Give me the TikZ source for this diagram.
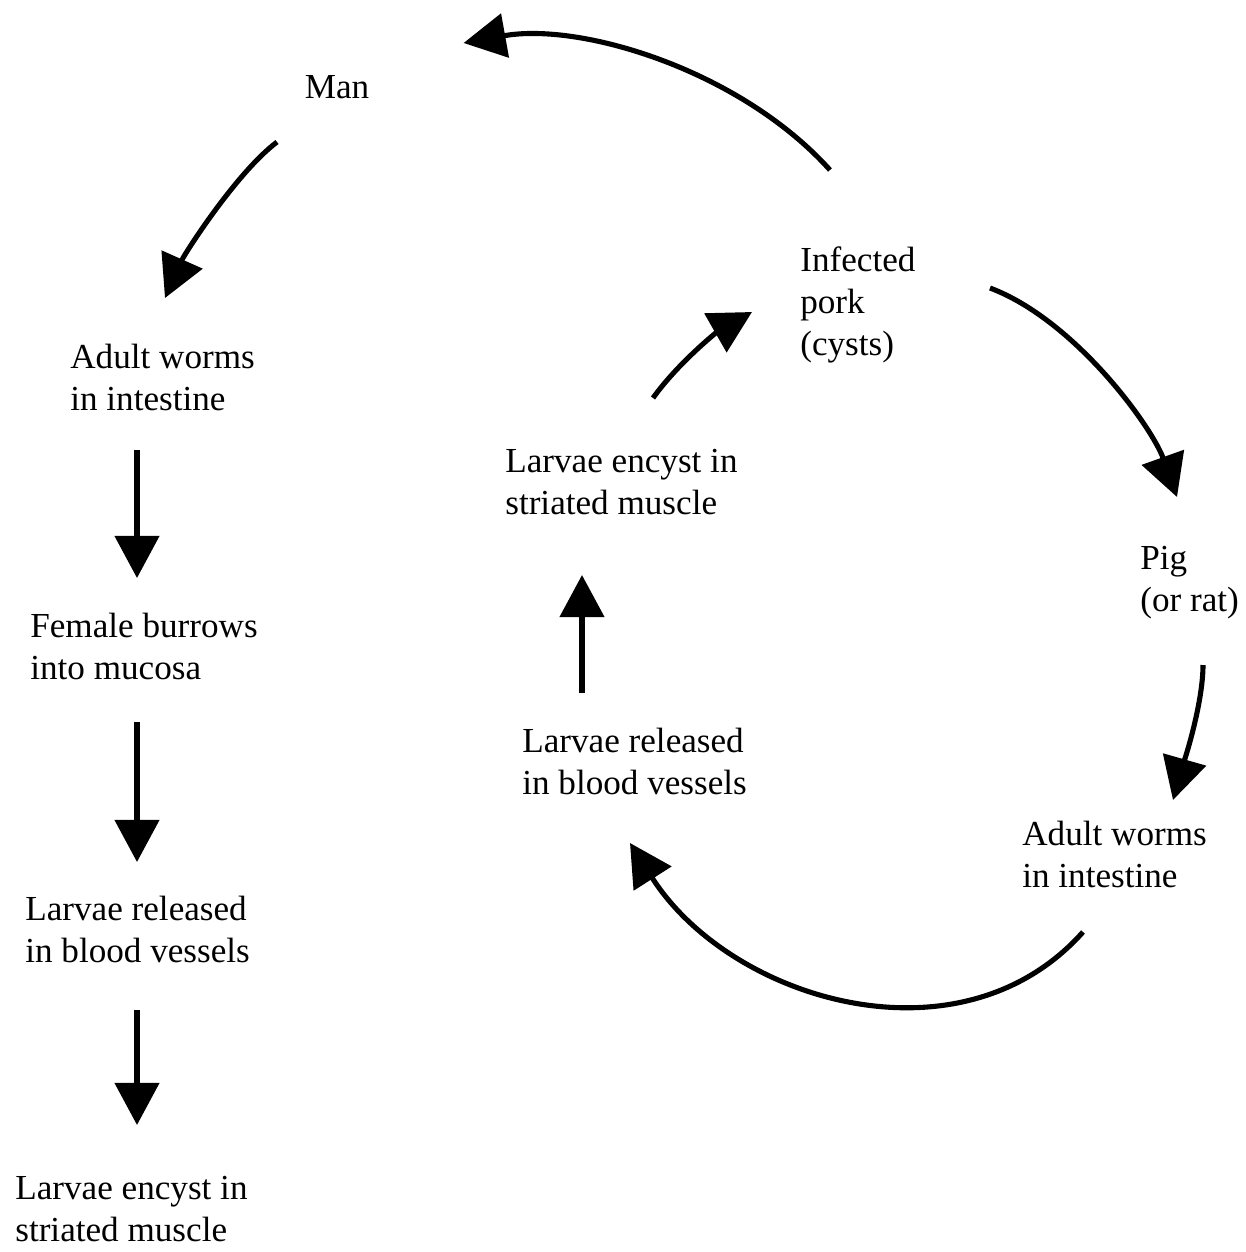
\documentclass[tikz,border=0pt]{standalone}
\usepackage{fontspec}
\setmainfont{Liberation Serif}
\usetikzlibrary{arrows.meta, positioning}

\begin{document}
\begin{tikzpicture}[
  x=0.02cm, y=-0.02cm,
  every node/.style={font=\fontsize{20}{24}\selectfont, align=left, inner sep=0pt, anchor=north west},
  arrow/.style={-{Triangle[length=24pt, width=25pt]}, line width=2.9pt}
]
\useasboundingbox (0,0) rectangle (1246,1252);

% Man (left column)
\node[anchor=center] (man) at (337,87) {Man};
\node (adultL) at (70,344) {Adult worms\\in intestine};
\node (burrow) at (30,613) {Female burrows\\into mucosa};
\node (releaseL) at (25,896) {Larvae released\\in blood vessels};
\node (encystL) at (15,1176) {Larvae encyst in\\striated muscle};

% Pig cycle (right)
\node (pork) at (800,246) {Infected\\pork\\(cysts)};
\node (pig) at (1140,546) {Pig\\(or rat)};
\node (adultR) at (1022,821) {Adult worms\\in intestine};
\node (releaseR) at (522,728) {Larvae released\\in blood vessels};
\node (encystR) at (505,449) {Larvae encyst in\\striated muscle};

% Arrows in man
\draw[arrow] ([shift={(30,-76)}]pork.north west) .. controls +(-90,-100) and +(117,-21) .. ([shift={(94,-44)}]man.east);
\draw[arrow] ([shift={(-60,43)}]man.south) .. controls +(-40,30) and +(20,-45) .. ([shift={(95,-46)}]adultL.north west);
\draw[arrow] ([shift={(67,106)}]adultL.north west) -- ([shift={(107,-35)}]burrow.north west);
\draw[arrow] ([shift={(107,109)}]burrow.north west) -- ([shift={(112,-34)}]releaseL.north west);
\draw[arrow] ([shift={(112,114)}]releaseL.north west) -- ([shift={(122,-51)}]encystL.north west);

% Arrows in pig
\draw[arrow] ([shift={(190,42)}]pork.north west) .. controls +(85,32) and +(-25,-70) .. ([shift={(37,-49)}]pig.north west);
\draw[arrow] ([shift={(63,119)}]pig.north west) .. controls +(0,40) and +(10,-35) .. ([shift={(151,-21)}]adultR.north west);
\draw[arrow] ([shift={(61,111)}]adultR.north west) .. controls +(-123,138) and +(100,157) .. ([shift={(108,115)}]releaseR.north west);
\draw[arrow] ([shift={(60,-35)}]releaseR.north west) -- ([shift={(77,126)}]encystR.north west);
\draw[arrow] ([shift={(148,-51)}]encystR.north west) .. controls +(25,-35) and +(-35,20) .. ([shift={(-48,66)}]pork.north west);

\end{tikzpicture}
\end{document}
